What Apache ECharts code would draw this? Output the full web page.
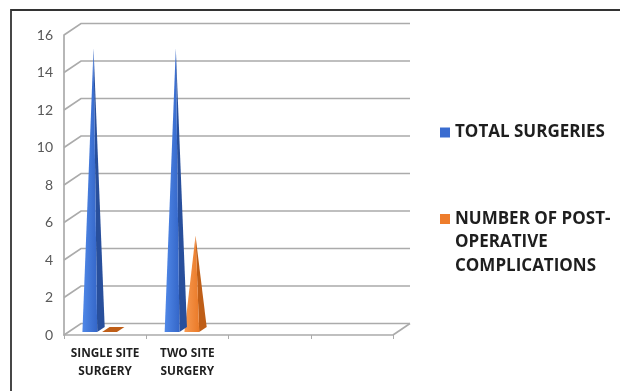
<!DOCTYPE html>
<html>
<head>
<meta charset="utf-8">
<style>
  html, body { margin: 0; padding: 0; background: #ffffff; }
  #chart { width: 620px; height: 391px; }
</style>
<script src="https://cdn.jsdelivr.net/npm/echarts@6/dist/echarts.min.js"></script>
</head>
<body>
<div id="chart"></div>
<script>
// Categories along the floor (two empty slots complete the axis)
const categories = ['SINGLE SITE\nSURGERY', 'TWO SITE\nSURGERY', '', ''];
// Series values
const totalSurgeries = [15, 15];
const complications = [0, 5];
// Value-axis ticks
const yTicks = [0, 2, 4, 6, 8, 10, 12, 14, 16];
const seriesNames = ['TOTAL SURGERIES', 'NUMBER OF POST-OPERATIVE COMPLICATIONS'];

// Oblique depth of the 3D box (pixels)
const DEPTH_X = 17, DEPTH_Y = -11.5;
// Where the pyramid bases sit inside the depth (fractions)
const D_FRONT = 0.26, D_BACK = 0.70, D_MID = 0.48;
// Pyramid placement inside each category band (fractions of band width)
const SERIES_OFFSET = [-0.24, 0.0];
const BASE_W = 0.18;

const FACE = [
  { front: ['#5088e8', '#3466c8'], side: '#284f9c' },
  { front: ['#f79a52', '#ea7a28'], side: '#bf5e17' }
];

const chart = echarts.init(document.getElementById('chart'), null, { renderer: 'canvas' });

function wallItem(params, api) {
  const v = api.value(0);
  const cs = params.coordSys;
  const p = api.coord([0, v]);
  const x0 = cs.x, x1 = cs.x + cs.width, y = p[1];
  const children = [{
    type: 'polyline',
    shape: { points: [[x0, y], [x0 + DEPTH_X, y + DEPTH_Y], [x1 + DEPTH_X, y + DEPTH_Y]] },
    style: { stroke: '#ababab', lineWidth: 1.7, fill: null }
  }];
  if (v === 0) {
    children.push({
      type: 'line',
      shape: { x1: x1, y1: y, x2: x1 + DEPTH_X, y2: y + DEPTH_Y },
      style: { stroke: '#ababab', lineWidth: 1.7 }
    });
  }
  return { type: 'group', children: children };
}

function makePyramid(sIdx) {
  return function (params, api) {
    const cat = api.value(0), val = api.value(1);
    const base = api.coord([cat, 0]);
    const top = api.coord([cat, val]);
    const bw = api.size([1, 0])[0];
    const cx = base[0] + SERIES_OFFSET[sIdx] * bw;
    const half = BASE_W * bw / 2;
    const fl = [cx - half + D_FRONT * DEPTH_X, base[1] + D_FRONT * DEPTH_Y];
    const fr = [cx + half + D_FRONT * DEPTH_X, base[1] + D_FRONT * DEPTH_Y];
    const br = [cx + half + D_BACK * DEPTH_X, base[1] + D_BACK * DEPTH_Y];
    const bl = [cx - half + D_BACK * DEPTH_X, base[1] + D_BACK * DEPTH_Y];
    const c = FACE[sIdx];
    if (val === 0) {
      return {
        type: 'polygon',
        shape: { points: [fl, fr, br, bl] },
        style: { fill: c.side }
      };
    }
    const apex = [cx + D_MID * DEPTH_X, top[1] + D_MID * DEPTH_Y];
    return {
      type: 'group',
      children: [
        {
          type: 'polygon',
          shape: { points: [fr, br, apex] },
          style: { fill: c.side }
        },
        {
          type: 'polygon',
          shape: { points: [fl, fr, apex] },
          style: {
            fill: new echarts.graphic.LinearGradient(0, 0, 1, 0, [
              { offset: 0, color: c.front[0] },
              { offset: 1, color: c.front[1] }
            ])
          }
        }
      ]
    };
  };
}

const LEGEND_FONT = { fontFamily: 'Open Sans', fontWeight: 'bold', fontSize: 17, fill: '#1e1e1e' };

chart.setOption({
  animation: false,
  backgroundColor: '#ffffff',
  grid: { left: 64, right: 227, top: 35, bottom: 56 },
  xAxis: {
    type: 'category',
    data: categories,
    boundaryGap: true,
    axisLine: { show: true, lineStyle: { color: '#ababab', width: 1.7 } },
    axisTick: { show: true, alignWithLabel: false, length: 4, lineStyle: { color: '#ababab' } },
    axisLabel: {
      margin: 10,
      interval: 0,
      color: '#1e1e1e',
      fontFamily: 'Open Sans',
      fontWeight: 'bold',
      fontSize: 11.8,
      lineHeight: 18
    },
    splitLine: { show: false }
  },
  yAxis: {
    type: 'value',
    min: 0,
    max: 16,
    interval: 2,
    axisLine: { show: true, lineStyle: { color: '#ababab', width: 1.7 } },
    axisTick: { show: false },
    axisLabel: { margin: 11, color: '#595959', fontFamily: 'Lato', fontSize: 14 },
    splitLine: { show: false }
  },
  graphic: [
    {
      type: 'rect',
      shape: { x: 11, y: 10, width: 640, height: 420 },
      style: { fill: null, stroke: '#333333', lineWidth: 1.8 },
      z: 100
    },
    {
      type: 'group',
      left: 440,
      top: 124,
      children: [
        { type: 'rect', shape: { x: 0, y: 3, width: 10, height: 10 }, style: { fill: '#3a6cd0' } },
        { type: 'text', x: 15, y: 8, style: Object.assign({ text: 'TOTAL SURGERIES', verticalAlign: 'middle' }, LEGEND_FONT) }
      ]
    },
    {
      type: 'group',
      left: 440,
      top: 207,
      children: [
        { type: 'rect', shape: { x: 0, y: 3, width: 10, height: 10 }, style: { fill: '#ee7d2c' } },
        {
          type: 'text', x: 15, y: -4,
          style: Object.assign({
            text: 'NUMBER OF POST-\nOPERATIVE\nCOMPLICATIONS',
            verticalAlign: 'top',
            lineHeight: 23.5
          }, LEGEND_FONT)
        }
      ]
    }
  ],
  series: [
    {
      type: 'custom',
      name: 'walls',
      coordinateSystem: 'cartesian2d',
      renderItem: wallItem,
      data: yTicks.map(function (v) { return [v]; }),
      encode: { y: 0 },
      silent: true,
      z: 1
    },
    {
      type: 'custom',
      name: seriesNames[0],
      coordinateSystem: 'cartesian2d',
      renderItem: makePyramid(0),
      data: totalSurgeries.map(function (v, i) { return [i, v]; }),
      encode: { x: 0, y: 1 },
      z: 3
    },
    {
      type: 'custom',
      name: seriesNames[1],
      coordinateSystem: 'cartesian2d',
      renderItem: makePyramid(1),
      data: complications.map(function (v, i) { return [i, v]; }),
      encode: { x: 0, y: 1 },
      z: 2
    }
  ]
});
</script>
</body>
</html>
